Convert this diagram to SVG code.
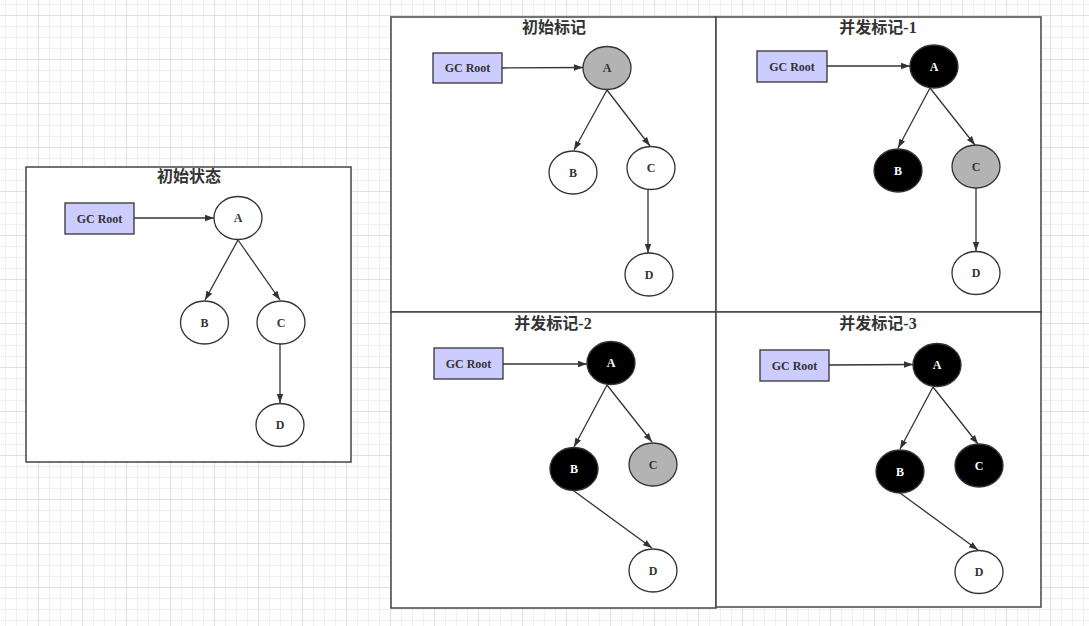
<svg xmlns="http://www.w3.org/2000/svg" width="1089" height="626" viewBox="0 0 1089 626">
<style>
.panel{fill:#fff;stroke:#444;stroke-width:1.5}
.title{font-family:"Liberation Serif","Noto Sans CJK SC",sans-serif;font-size:16px;font-weight:bold;fill:#333;text-anchor:middle}
.root rect{fill:#ccccff;stroke:#333;stroke-width:1.3}
.lbl{font-family:"Liberation Serif","Noto Sans CJK SC",serif;font-size:12px;font-weight:bold;fill:#333;text-anchor:middle;dominant-baseline:central}
.w ellipse{fill:#fff;stroke:#333;stroke-width:1.3}
.g ellipse{fill:#b3b3b3;stroke:#333;stroke-width:1.3}
.k ellipse{fill:#000;stroke:#333;stroke-width:1.3}
.k text{fill:#fff}
.edges line{stroke:#333;stroke-width:1.3;marker-end:url(#ah)}
</style>
<defs>
<pattern id="grid" x="38" y="15" width="44" height="44" patternUnits="userSpaceOnUse">
<path d="M11.5 0V44M22.5 0V44M33.5 0V44M0 11.5H44M0 22.5H44M0 33.5H44" stroke="#f0f0f0" stroke-width="1" fill="none"/>
<path d="M0.5 0V44M0 0.5H44" stroke="#e0e0e0" stroke-width="1" fill="none"/>
</pattern>
<marker id="ah" markerWidth="10" markerHeight="8" refX="9" refY="4" orient="auto" markerUnits="userSpaceOnUse">
<path d="M0 0.8L9 4L0 7.2z" fill="#333"/>
</marker>
</defs>
<rect width="1089" height="626" fill="#fff"/>
<rect width="1089" height="626" fill="url(#grid)"/>

<g id="panels">
<rect class="panel" x="26" y="167" width="325" height="295"/>
<rect class="panel" x="391" y="17" width="325" height="295"/>
<rect class="panel" x="716" y="17" width="325" height="295"/>
<rect class="panel" x="391" y="312" width="325" height="296"/>
<rect class="panel" x="716" y="312" width="325" height="295"/>
</g>
<g id="titles">
<text class="title" x="189" y="182">初始状态</text>
<text class="title" x="554" y="33">初始标记</text>
<text class="title" x="878" y="33">并发标记-1</text>
<text class="title" x="553" y="329">并发标记-2</text>
<text class="title" x="878" y="329">并发标记-3</text>
</g>

<g id="edges" class="edges">
<line x1="134" y1="218" x2="214" y2="218"/>
<line x1="238" y1="240" x2="205" y2="300"/>
<line x1="238" y1="240" x2="280" y2="300"/>
<line x1="280" y1="344" x2="280" y2="403"/>

<line x1="502" y1="68" x2="583" y2="67.5"/>
<line x1="607" y1="90" x2="574" y2="150"/>
<line x1="607" y1="90" x2="650" y2="146"/>
<line x1="648" y1="190" x2="648" y2="253"/>

<line x1="827" y1="66" x2="910" y2="66"/>
<line x1="930" y1="88" x2="898" y2="148"/>
<line x1="930" y1="88" x2="975" y2="145"/>
<line x1="976" y1="188" x2="976" y2="251"/>

<line x1="503" y1="364" x2="587" y2="364"/>
<line x1="607" y1="385" x2="574" y2="447"/>
<line x1="607" y1="385" x2="652" y2="442"/>
<line x1="574" y1="491" x2="652" y2="548"/>

<line x1="829" y1="365" x2="913" y2="364.5"/>
<line x1="933" y1="387" x2="900" y2="449"/>
<line x1="933" y1="387" x2="978" y2="444"/>
<line x1="900" y1="493" x2="978" y2="550"/>
</g>

<g id="s0-root" class="root"><rect x="65" y="203" width="69" height="31"/><text class="lbl" x="99.5" y="218.5">GC Root</text></g>
<g id="s0-A" class="w"><ellipse cx="238" cy="218" rx="24" ry="21.5"/><text class="lbl" x="238" y="218">A</text></g>
<g id="s0-B" class="w"><ellipse cx="204.5" cy="322.5" rx="24" ry="21.5"/><text class="lbl" x="204.5" y="322.5">B</text></g>
<g id="s0-C" class="w"><ellipse cx="281" cy="322.5" rx="24" ry="21.5"/><text class="lbl" x="281" y="322.5">C</text></g>
<g id="s0-D" class="w"><ellipse cx="280" cy="425" rx="24" ry="21.5"/><text class="lbl" x="280" y="425">D</text></g>

<g id="s1-root" class="root"><rect x="433" y="53" width="69" height="30"/><text class="lbl" x="467.5" y="68">GC Root</text></g>
<g id="s1-A" class="g"><ellipse cx="607" cy="68" rx="24" ry="21.5"/><text class="lbl" x="607" y="68">A</text></g>
<g id="s1-B" class="w"><ellipse cx="573" cy="172.5" rx="24" ry="21.5"/><text class="lbl" x="573" y="172.5">B</text></g>
<g id="s1-C" class="w"><ellipse cx="651" cy="168" rx="24" ry="21.5"/><text class="lbl" x="651" y="168">C</text></g>
<g id="s1-D" class="w"><ellipse cx="649" cy="274.5" rx="24" ry="21.5"/><text class="lbl" x="649" y="274.5">D</text></g>

<g id="s2-root" class="root"><rect x="757" y="51" width="70" height="31"/><text class="lbl" x="792" y="66.5">GC Root</text></g>
<g id="s2-A" class="k"><ellipse cx="934" cy="66.5" rx="24" ry="21.5"/><text class="lbl" x="934" y="66.5">A</text></g>
<g id="s2-B" class="k"><ellipse cx="898" cy="170.5" rx="24" ry="21.5"/><text class="lbl" x="898" y="170.5">B</text></g>
<g id="s2-C" class="g"><ellipse cx="976" cy="166.5" rx="24" ry="21.5"/><text class="lbl" x="976" y="166.5">C</text></g>
<g id="s2-D" class="w"><ellipse cx="976" cy="273" rx="24" ry="21.5"/><text class="lbl" x="976" y="273">D</text></g>

<g id="s3-root" class="root"><rect x="434" y="348" width="69" height="31"/><text class="lbl" x="468.5" y="363.5">GC Root</text></g>
<g id="s3-A" class="k"><ellipse cx="611" cy="363" rx="24" ry="21.5"/><text class="lbl" x="611" y="363">A</text></g>
<g id="s3-B" class="k"><ellipse cx="574" cy="469" rx="24" ry="21.5"/><text class="lbl" x="574" y="469">B</text></g>
<g id="s3-C" class="g"><ellipse cx="653" cy="464.5" rx="24" ry="21.5"/><text class="lbl" x="653" y="464.5">C</text></g>
<g id="s3-D" class="w"><ellipse cx="653" cy="570.5" rx="24" ry="21.5"/><text class="lbl" x="653" y="570.5">D</text></g>

<g id="s4-root" class="root"><rect x="760" y="350" width="69" height="31"/><text class="lbl" x="794.5" y="365.5">GC Root</text></g>
<g id="s4-A" class="k"><ellipse cx="937" cy="365" rx="24" ry="21.5"/><text class="lbl" x="937" y="365">A</text></g>
<g id="s4-B" class="k"><ellipse cx="900" cy="471.5" rx="24" ry="21.5"/><text class="lbl" x="900" y="471.5">B</text></g>
<g id="s4-C" class="k"><ellipse cx="979" cy="465.5" rx="24" ry="21.5"/><text class="lbl" x="979" y="465.5">C</text></g>
<g id="s4-D" class="w"><ellipse cx="979" cy="572" rx="24" ry="21.5"/><text class="lbl" x="979" y="572">D</text></g>
</svg>
